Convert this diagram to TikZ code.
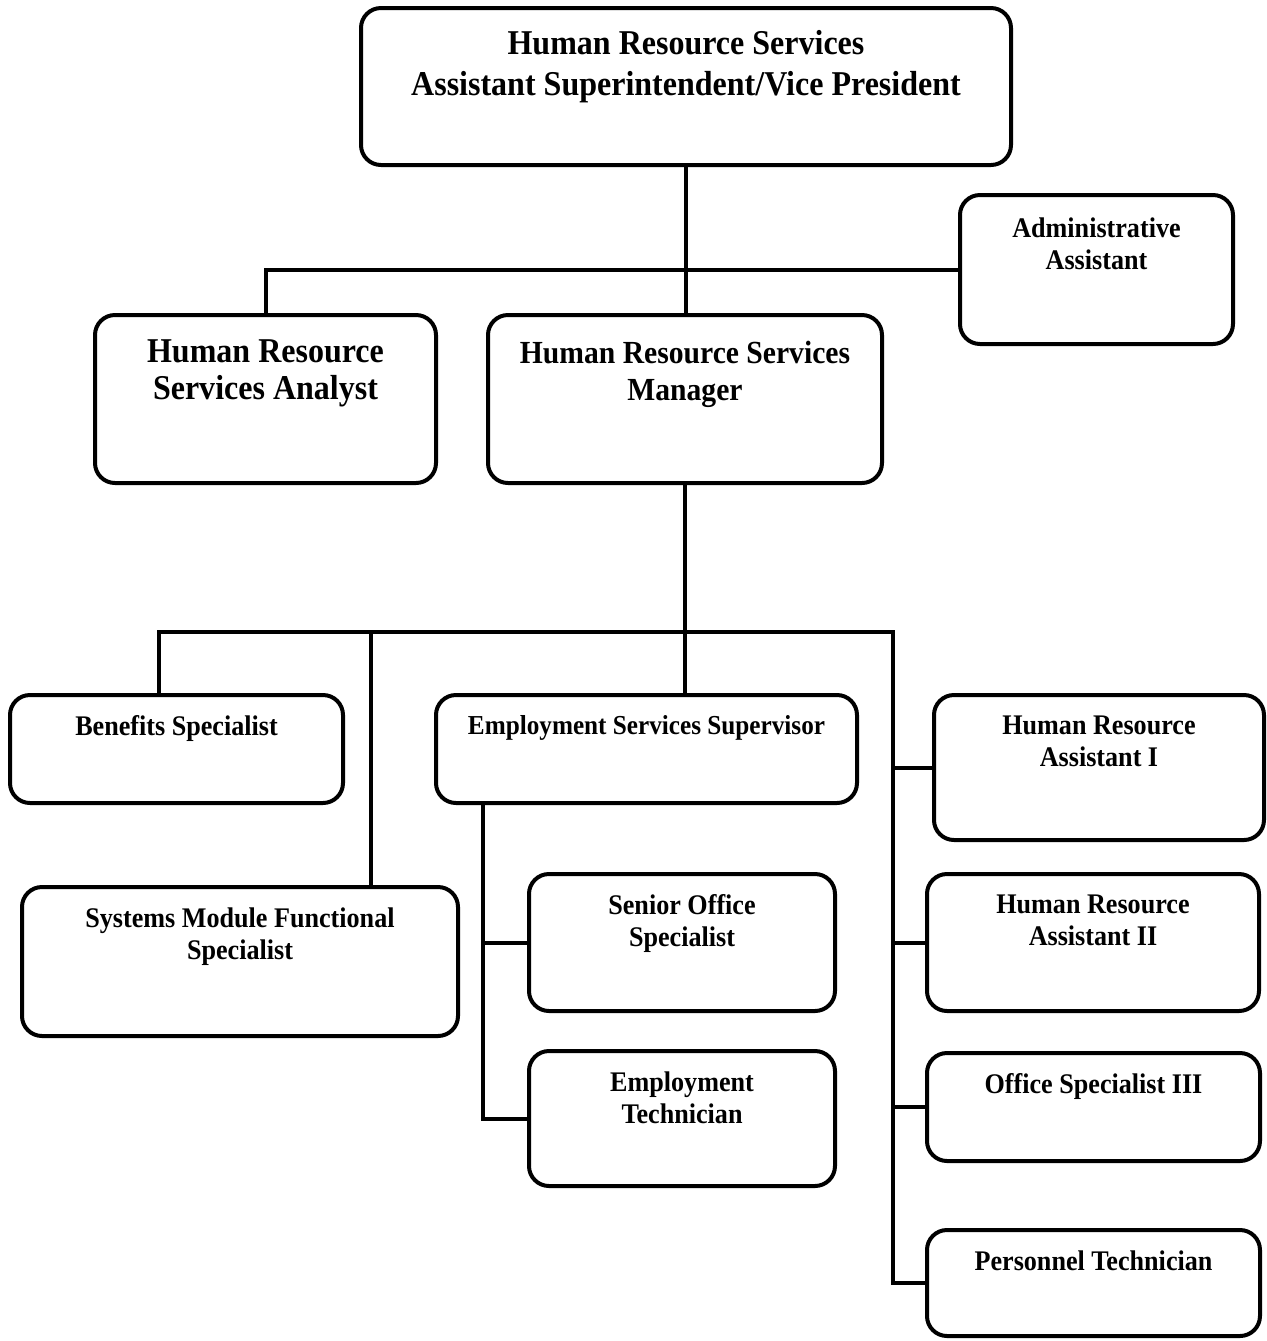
\documentclass[tikz,border=0pt]{standalone}
\usepackage{fontspec}
\setmainfont{Liberation Serif}[FakeStretch=0.92]
\usetikzlibrary{positioning}

\begin{document}
\begin{tikzpicture}[x=0.5pt,y=-0.5pt,line width=2pt,
  box/.style={draw,rounded corners=10pt,inner sep=0pt},
  link/.style={line join=miter},
  bigtxt/.style={inner sep=0pt,align=center,font=\fontsize{16.1}{18.5}\selectfont\bfseries},
  toptxt/.style={inner sep=0pt,align=center,font=\fontsize{17.4}{20.5}\selectfont\bfseries},
  smalltxt/.style={inner sep=0pt,align=center,font=\fontsize{14.2}{16}\selectfont\bfseries}]
\useasboundingbox (0,0) rectangle (1267,1341);

% boxes
\node[box,minimum width=325pt,minimum height=78.5pt] (vp) at (686,86.5) {};
\node[box,minimum width=136.5pt,minimum height=74.5pt] (adm) at (1096.5,269.5) {};
\node[box,minimum width=170.5pt,minimum height=84pt] (ana) at (265.5,399) {};
\node[box,minimum width=197pt,minimum height=84pt] (mgr) at (685,399) {};
\node[box,minimum width=166.5pt,minimum height=54pt] (ben) at (176.5,749) {};
\node[box,minimum width=210.5pt,minimum height=54pt] (sup) at (646.5,749) {};
\node[box,minimum width=165pt,minimum height=72.5pt] (hra1) at (1099,767.5) {};
\node[box,minimum width=218pt,minimum height=74.5pt] (sys) at (240,961.5) {};
\node[box,minimum width=153pt,minimum height=68.5pt] (sen) at (682,942.5) {};
\node[box,minimum width=153pt,minimum height=67.5pt] (emt) at (682,1118.5) {};
\node[box,minimum width=166pt,minimum height=68.5pt] (hra2) at (1093,942.5) {};
\node[box,minimum width=166.5pt,minimum height=54pt] (os3) at (1093.5,1107) {};
\node[box,minimum width=166.5pt,minimum height=53pt] (per) at (1093.5,1283) {};

% titles
\node[toptxt,below=11pt of vp.north] (vpT) {Human Resource Services\\Assistant Superintendent/Vice President};
\node[smalltxt,below=11.5pt of adm.north] (admT) {Administrative\\Assistant};
\node[toptxt,font=\fontsize{17.4}{18.5}\selectfont\bfseries,below=12.5pt of ana.north] (anaT) {Human Resource\\Services Analyst};
\node[bigtxt,below=12.9pt of mgr.north] (mgrT) {Human Resource Services\\Manager};
\node[smalltxt,below=10.2pt of ben.north] (benT) {Benefits Specialist};
\node[smalltxt,font=\fontsize{13.7}{16}\selectfont\bfseries,below=10.4pt of sup.north] (supT) {Employment Services Supervisor};
\node[smalltxt,below=10.2pt of hra1.north] (hra1T) {Human Resource\\Assistant I};
\node[smalltxt,below=10.2pt of sys.north] (sysT) {Systems Module Functional\\Specialist};
\node[smalltxt,below=10.2pt of sen.north] (senT) {Senior Office\\Specialist};
\node[smalltxt,below=10.2pt of emt.north] (emtT) {Employment\\Technician};
\node[smalltxt,below=10.2pt of hra2.north] (hra2T) {Human Resource\\Assistant II};
\node[smalltxt,below=10.2pt of os3.north] (os3T) {Office Specialist III};
\node[smalltxt,below=10.2pt of per.north] (perT) {Personnel Technician};

% connectors
\coordinate (busL) at (159,632);
\coordinate (busS) at (371,632);
\coordinate (busR) at (893,632);
\coordinate (supL) at (483,805);

\draw[link] (vp.south) -- (vp.south |- mgr.north);
\draw[link] (ana.north) |- (adm.west);
\draw[link] (mgr.south) -- (mgr.south |- sup.north);
\draw[link] (busL |- ben.north) -- (busL) -- (busR) |- (per.west);
\draw[link] (busS) -- (busS |- sys.north);
\draw[link] (busR |- hra1.west) -- (hra1.west);
\draw[link] (busR |- hra2.west) -- (hra2.west);
\draw[link] (busR |- os3.west) -- (os3.west);
\draw[link] (supL) |- (emt.west);
\draw[link] (supL |- sen.west) -- (sen.west);
\end{tikzpicture}
\end{document}
